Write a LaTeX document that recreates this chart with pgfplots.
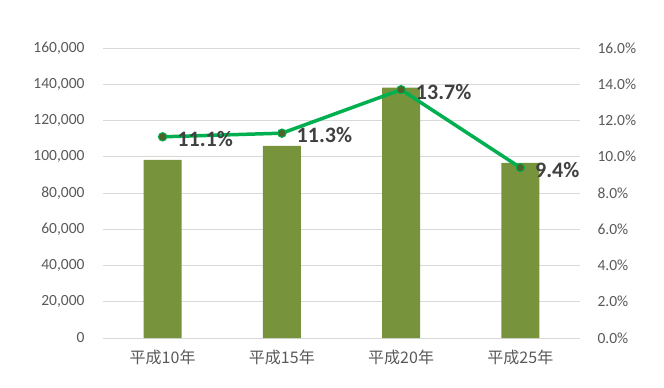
\documentclass[border=0pt]{standalone}
\usepackage{fontspec}
\setmainfont{Carlito}
\newfontfamily\cjk{Noto Sans CJK JP}
\usepackage{pgfplots}
\pgfplotsset{compat=1.18}
\definecolor{barg}{HTML}{77933C}
\definecolor{lineg}{HTML}{00B050}
\definecolor{markg}{HTML}{4F6228}
\definecolor{txt}{HTML}{595959}
\definecolor{lbl}{HTML}{404040}
\definecolor{gridc}{HTML}{D9D9D9}
\begin{document}
\begin{tikzpicture}
\useasboundingbox (0,0) rectangle (664bp,388bp);
\begin{axis}[
  at={(103bp,50bp)}, anchor=south west,
  scale only axis, width=477bp, height=290bp,
  xmin=-0.5, xmax=3.5, ymin=0, ymax=160000,
  ytick={0,20000,40000,60000,80000,100000,120000,140000,160000},
  yticklabels={0,{20,000},{40,000},{60,000},{80,000},{100,000},{120,000},{140,000},{160,000}},
  xtick={0,1,2,3},
  xticklabels={{\cjk 平成10年},{\cjk 平成15年},{\cjk 平成20年},{\cjk 平成25年}},
  axis line style={draw=none},
  axis x line*=bottom, axis y line*=left,
  major tick length=0pt,
  ymajorgrids, grid style={gridc, line width=0.9bp},
  scaled y ticks=false,
  tick label style={text=txt, font=\fontsize{15.5bp}{17bp}\selectfont},
  yticklabel style={xshift=-15bp},
  xticklabel style={yshift=-8bp, font=\fontsize{16bp}{18bp}\selectfont},
  clip=false,
]
\addplot[ybar, bar width=38bp, fill=barg, draw=none] coordinates {(0,98300) (1,106000) (2,138200) (3,96600)};
\end{axis}
\begin{axis}[
  at={(103bp,50bp)}, anchor=south west,
  scale only axis, width=477bp, height=290bp,
  xmin=-0.5, xmax=3.5, ymin=0, ymax=16,
  ytick={0,2,4,6,8,10,12,14,16},
  yticklabels={0.0\%,2.0\%,4.0\%,6.0\%,8.0\%,10.0\%,12.0\%,14.0\%,16.0\%},
  xtick=\empty,
  axis line style={draw=none},
  axis y line*=right, axis x line=none,
  major tick length=0pt,
  tick label style={text=txt, font=\fontsize{15.5bp}{17bp}\selectfont},
  yticklabel style={xshift=14bp},
  clip=false,
]
\addplot[lineg, line width=3.5bp, mark=*, mark size=4.2bp,
  mark options={fill=markg, draw=lineg, line width=1bp},
  nodes near coords,
  point meta=explicit symbolic,
  every node near coord/.append style={anchor=west, xshift=11bp, yshift=-2bp, text=lbl, font=\bfseries\fontsize{22bp}{24bp}\selectfont}]
  coordinates {(0,11.1)[11.1\%] (1,11.3)[11.3\%] (2,13.7)[13.7\%] (3,9.4)[9.4\%]};
\end{axis}
\end{tikzpicture}
\end{document}
